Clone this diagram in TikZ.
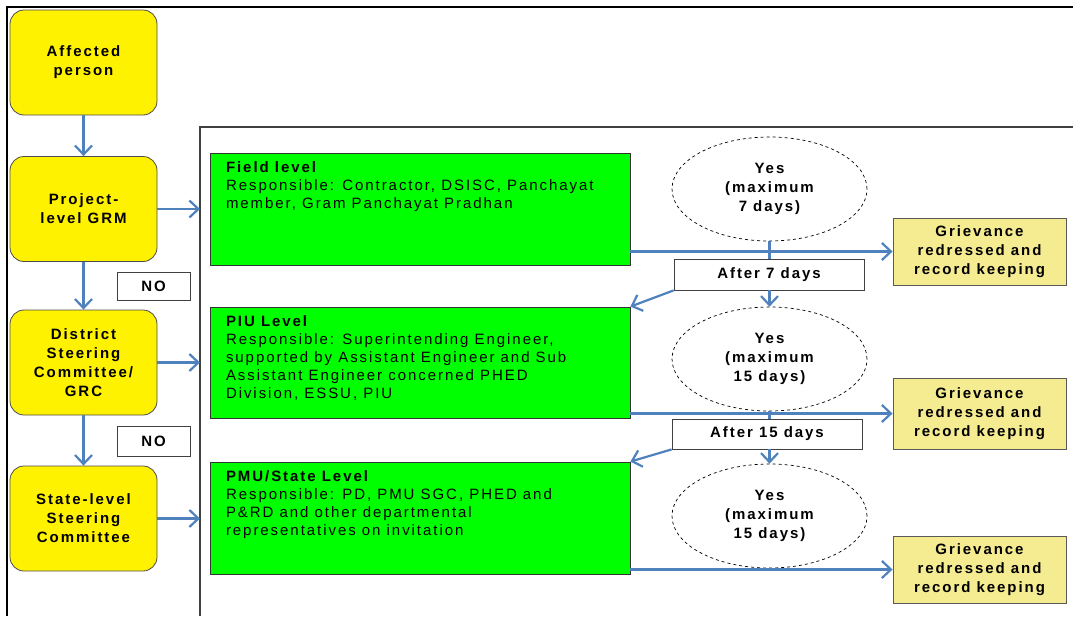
\documentclass[tikz,border=0pt]{standalone}
\usepackage{fontspec}
\setmainfont[LetterSpace=13]{Liberation Sans}
\usepackage{tikz}
\usetikzlibrary{calc}
\usetikzlibrary{arrows.meta}
\usetikzlibrary{shapes.geometric}

\definecolor{flowblue}{RGB}{79,129,189}
\definecolor{grvyellow}{RGB}{245,235,145}
\tikzset{
  stage/.style={draw=black!70, fill=yellow, rounded corners=14pt, line width=0.8pt,
    minimum width=147pt, minimum height=105pt, align=center, inner sep=2pt,
    font=\fontsize{15}{19}\selectfont\bfseries},
  level/.style={draw=black!80, fill=green, line width=0.8pt, inner xsep=16pt, inner ysep=9pt,
    font=\fontsize{15}{18}\selectfont},
  yesell/.style={ellipse, draw, dashed, line width=0.7pt, minimum width=195pt, minimum height=104pt,
    align=center, inner sep=0pt, font=\fontsize{15}{19}\selectfont\bfseries},
  tag/.style={draw=black!75, fill=white, line width=0.8pt, inner sep=0pt,
    font=\fontsize{15}{18}\selectfont\bfseries},
  outcome/.style={draw=black!65, fill=grvyellow, line width=0.9pt, minimum width=173pt, align=center,
    inner sep=0pt, font=\fontsize{15}{19}\selectfont\bfseries},
  flow/.style={flowblue, line width=2.2pt, -{Straight Barb[length=9pt,width=17pt]}},
}

\begin{document}
\begin{tikzpicture}[x=1pt,y=-1pt]

\useasboundingbox (0,0) rectangle (1073,616);

\draw[line width=1.6pt] (1073,7) -- (7,7) -- (7,616);
\draw[black!75,line width=1.2pt] (1073,127) -- (200,127) -- (200,616);

\node[stage] (affected) at (83.5,62.5) {Affected\\person};
\node[stage] (grm) at (83.5,209) {Project-\\level GRM};
\node[stage] (dsc) at (83.5,362.5) {District\\Steering\\Committee/\\GRC};
\node[stage] (slsc) at (83.5,518.5) {State-level\\Steering\\Committee};

\node[tag,minimum width=73pt,minimum height=28pt] (no1) at (153.5,286) {NO};
\node[tag,minimum width=73pt,minimum height=30pt] (no2) at (153.5,441) {NO};

\node[level] (field) at (420,209) {\parbox[t][94pt][t]{388pt}{\textbf{Field level}\\
  Responsible: Contractor, DSISC, Panchayat\\member, Gram Panchayat Pradhan}};
\node[level] (piu) at (420,362.5) {\parbox[t][93pt][t]{388pt}{\textbf{PIU Level}\\
  Responsible: Superintending Engineer,\\supported by Assistant Engineer and Sub\\
  Assistant Engineer concerned PHED\\Division, ESSU, PIU}};
\node[level] (pmu) at (420,518) {\parbox[t][94pt][t]{388pt}{\textbf{PMU/State Level}\\
  Responsible: PD, PMU SGC, PHED and\\P\&RD and other departmental\\
  representatives on invitation}};

\node[yesell] (yes1) at (769.5,189) {Yes\\(maximum\\7 days)};
\node[yesell] (yes2) at (769.5,359) {Yes\\(maximum\\15 days)};
\node[yesell] (yes3) at (769.5,516) {Yes\\(maximum\\15 days)};

\node[tag,minimum width=190pt,minimum height=31pt] (after1) at (769,274.5) {After 7 days};
\node[tag,minimum width=190pt,minimum height=30pt] (after2) at (767,434) {After 15 days};

\node[outcome,minimum height=67pt] (grv1) at (979.5,251.5) {Grievance\\redressed and\\record keeping};
\node[outcome,minimum height=71pt] (grv2) at (979.5,413.5) {Grievance\\redressed and\\record keeping};
\node[outcome,minimum height=67pt] (grv3) at (979.5,569.5) {Grievance\\redressed and\\record keeping};

\coordinate (in1) at (200,209);
\coordinate (in2) at (200,362.5);
\coordinate (in3) at (200,518.5);

\draw[flow] (affected) -- (grm);
\draw[flow] (grm) -- (dsc);
\draw[flow] (dsc) -- (slsc);
\draw[flow] (grm.east) -- (in1);
\draw[flow] (dsc.east) -- (in2);
\draw[flow] (slsc.east) -- (in3);

\draw[flow] (field.east |- grv1.west) -- (grv1.west);
\draw[flow] (piu.east |- grv2.west) -- (grv2.west);
\draw[flow] (pmu.east |- grv3.west) -- (grv3.west);

\draw[flowblue,line width=2.2pt] (yes1.south) -- (yes1.south |- after1.north);
\draw[flow] (yes1.south |- after1.south) -- (yes2.north);
\draw[flowblue,line width=2.2pt] (yes2.south) -- (yes2.south |- after2.north);
\draw[flow] (yes2.south |- after2.south) -- (yes3.north);
\draw[flow] (after1.south west) -- (piu.north east);
\draw[flow] (after2.south west) -- (pmu.north east);

\end{tikzpicture}
\end{document}
